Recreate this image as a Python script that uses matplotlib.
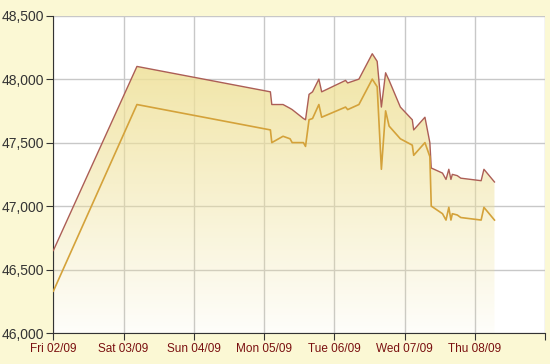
import numpy as np
import matplotlib
matplotlib.use('Agg')
import matplotlib.pyplot as plt

plt.rcParams['font.family'] = ['Liberation Sans', 'DejaVu Sans']

# thoi gian tinh theo ngay ke tu Fri 02/09
t = [0.00, 1.19, 3.09, 3.11, 3.27, 3.37, 3.40, 3.56, 3.59, 3.64, 3.69, 3.78, 3.82,
     4.16, 4.19, 4.35, 4.54, 4.61, 4.67, 4.73, 4.78, 4.94, 5.11, 5.13, 5.29, 5.36,
     5.38, 5.54, 5.59, 5.63, 5.66, 5.68, 5.75, 5.80, 6.09, 6.13, 6.28]

# gia ban (duong tren)
sell = [46650, 48100, 47900, 47800, 47800, 47770, 47760, 47690, 47680, 47880, 47900, 48000, 47900,
        47990, 47970, 48000, 48200, 48140, 47780, 48050, 47990, 47780, 47680, 47600, 47700, 47500,
        47300, 47260, 47210, 47290, 47210, 47250, 47240, 47220, 47200, 47290, 47190]

# gia mua (duong duoi)
buy = [46330, 47800, 47600, 47500, 47550, 47530, 47500, 47500, 47470, 47680, 47690, 47800, 47700,
       47780, 47760, 47800, 48000, 47940, 47290, 47750, 47630, 47530, 47480, 47400, 47500, 47390,
       47000, 46940, 46890, 46990, 46890, 46940, 46930, 46910, 46890, 46990, 46890]

day_labels = ['Fri 02/09', 'Sat 03/09', 'Sun 04/09', 'Mon 05/09', 'Tue 06/09', 'Wed 07/09', 'Thu 08/09', '']
y_ticks = [46000, 46500, 47000, 47500, 48000, 48500]

fig = plt.figure(figsize=(5.5, 3.64), dpi=100)
fig.patch.set_facecolor('#FBF8D4')
ax = fig.add_axes([0.097, 0.085, 0.894, 0.872])
ax.set_facecolor('white')

ax.set_xlim(0, 7)
ax.set_ylim(46000, 48500)

# nen chuyen mau (trong suot dan xuong duoi)
poly = ax.fill_between(t, sell, 46000, facecolor='none', edgecolor='none')
grad = np.zeros((256, 1, 4))
grad[:, 0, 0] = 0.94
grad[:, 0, 1] = 0.885
grad[:, 0, 2] = 0.60
grad[:, 0, 3] = np.linspace(0.05, 0.9, 256)
im = ax.imshow(grad, extent=[0, max(t), 46000, 48200], origin='lower', aspect='auto', zorder=1)
im.set_clip_path(poly.get_paths()[0], transform=ax.transData)

ax.plot(t, sell, color='#AC5E56', lw=1.0, zorder=3)
ax.plot(t, buy, color='#D4A23A', lw=1.2, zorder=3)

ax.set_xticks(range(8))
ax.set_xticklabels(day_labels, color='#7A1010', fontsize=8.5)
ax.set_yticks(y_ticks)
ax.set_yticklabels([f'{v:,}' for v in y_ticks], color='#333333', fontsize=10)

ax.grid(True, color='#C8C8C8', lw=1.0, zorder=0)
ax.set_axisbelow(True)
for s in ['top', 'right']:
    ax.spines[s].set_visible(False)
for s in ['left', 'bottom']:
    ax.spines[s].set_color('#333333')
ax.tick_params(direction='out', length=5, color='#333333', pad=2)

fig.savefig('out.png', dpi=100, facecolor=fig.get_facecolor())
